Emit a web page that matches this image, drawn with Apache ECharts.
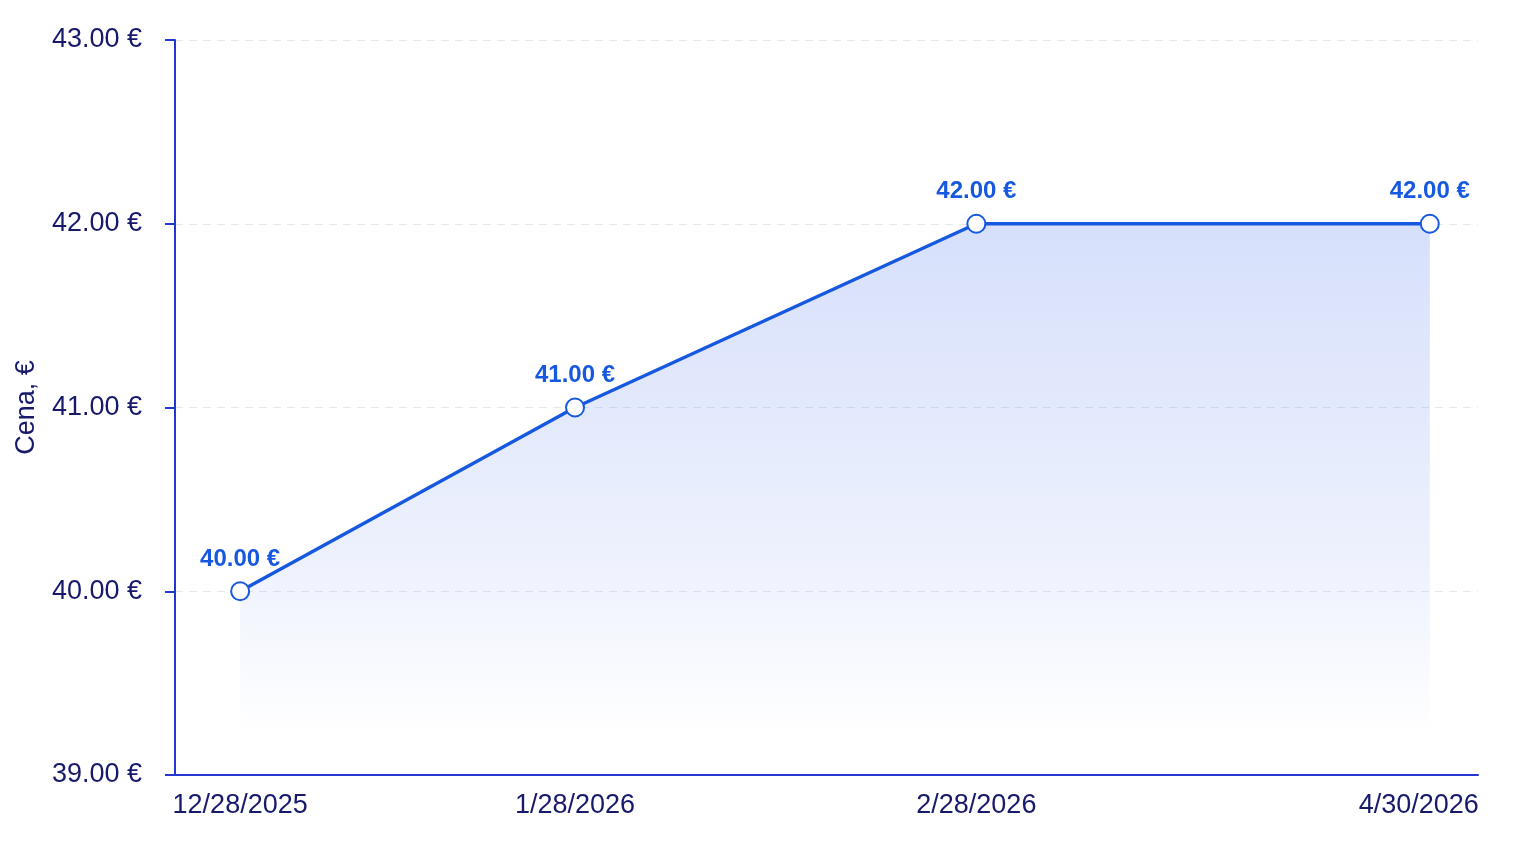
<!DOCTYPE html>
<html>
<head>
<meta charset="utf-8">
<title>Cena</title>
<script src="https://cdn.jsdelivr.net/npm/echarts@6/dist/echarts.min.js"></script>
<style>
  html, body { margin: 0; padding: 0; background: #fff; }
  #chart { width: 1536px; height: 846px; }
</style>
</head>
<body>
<div id="chart"></div>
<script>
// dates of the price points and where they sit along the x axis (0-100)
const dates = ['12/28/2025', '1/28/2026', '2/28/2026', '4/30/2026'];
const xPos = [5, 30.7, 61.5, 96.3];
const prices = [40, 41, 42, 42];

const axisColor = '#2438cf';
const textColor = '#17196b';
const lineColor = '#1659e0';

let myChart = echarts.init(document.getElementById('chart'), null, {renderer: 'canvas'});

let points = xPos.map((x, i) => [x, prices[i]]);

let option = {
    backgroundColor: '#fff',
    animation: false,
    grid: {left: 175, right: 58, top: 40, bottom: 71},
    xAxis: {
        type: 'value',
        min: 0,
        max: 100,
        axisLine: {show: true, lineStyle: {color: axisColor, width: 2}},
        axisTick: {show: false},
        splitLine: {show: false},
        axisLabel: {
            customValues: xPos,
            color: textColor,
            fontSize: 27,
            fontFamily: 'Liberation Sans',
            margin: 17,
            formatter: (v) => {
                let i = xPos.indexOf(v);
                if (i < 0) return '';
                // last label is pulled in so it ends with the axis
                return i === dates.length - 1 ? '{last|' + dates[i] + '}' : dates[i];
            },
            rich: {
                last: {color: textColor, fontSize: 27, fontFamily: 'Liberation Sans', padding: [0, 22, 0, 0]}
            }
        }
    },
    yAxis: {
        type: 'value',
        min: 39,
        max: 43,
        interval: 1,
        name: 'Cena, €',
        nameLocation: 'middle',
        nameGap: 135,
        nameTextStyle: {color: textColor, fontSize: 27, fontFamily: 'Liberation Sans'},
        axisLine: {show: true, lineStyle: {color: axisColor, width: 2}},
        axisTick: {show: true, length: 10, lineStyle: {color: axisColor, width: 2}},
        splitLine: {show: true, lineStyle: {color: '#e6e8ef', type: [8, 6], width: 1}},
        axisLabel: {
            color: textColor,
            fontSize: 27,
            fontFamily: 'Liberation Sans',
            margin: 33,
            formatter: (v) => v.toFixed(2) + ' €'
        }
    },
    series: [{
        type: 'line',
        data: points,
        symbol: 'emptyCircle',
        symbolSize: 18,
        itemStyle: {color: lineColor, borderWidth: 3.5, borderColor: lineColor},
        lineStyle: {color: lineColor, width: 3.5},
        label: {
            show: true,
            position: 'top',
            distance: 10,
            color: lineColor,
            fontSize: 24,
            fontWeight: 'bold',
            fontFamily: 'Liberation Sans',
            formatter: (p) => p.value[1].toFixed(2) + ' €'
        },
        areaStyle: {
            color: new echarts.graphic.LinearGradient(0, 0, 0, 1, [
                {offset: 0, color: 'rgba(75, 115, 238, 0.32)'},
                {offset: 0.6, color: 'rgba(75, 115, 238, 0.14)'},
                {offset: 0.93, color: 'rgba(75, 115, 238, 0)'},
                {offset: 1, color: 'rgba(75, 115, 238, 0)'}
            ])
        }
    }]
};
myChart.setOption(option);
window.addEventListener('resize', () => myChart.resize());
</script>
</body>
</html>
